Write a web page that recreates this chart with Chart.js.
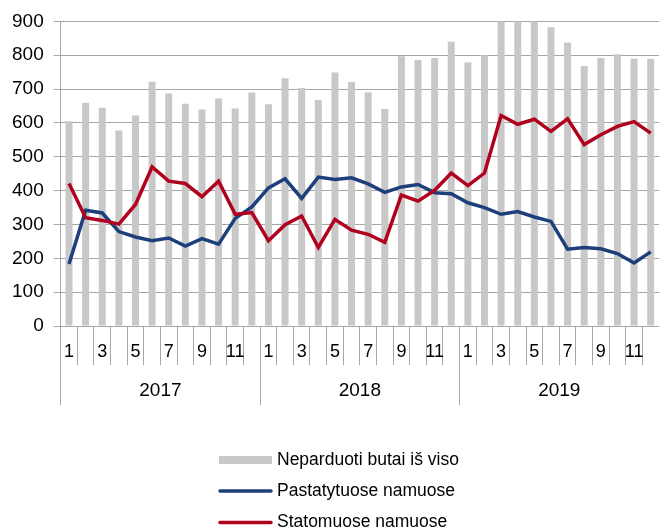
<!DOCTYPE html>
<html>
<head>
<meta charset="utf-8">
<script src="https://cdn.jsdelivr.net/npm/chart.js@4"></script>
<style>
  html, body { margin: 0; padding: 0; background: #fff; }
  #wrap { width: 659px; height: 530px; }
</style>
</head>
<body>
<div id="wrap"><canvas id="chart"></canvas></div>
<script>
const months = ['1','2','3','4','5','6','7','8','9','10','11','12',
                '1','2','3','4','5','6','7','8','9','10','11','12',
                '1','2','3','4','5','6','7','8','9','10','11','12'];
const years = ['2017', '2018', '2019'];

// Neparduoti butai iš viso (bars)
const unsoldTotal = [605, 660, 645, 578, 622, 722, 687, 657, 640, 672, 643, 690,
                     655, 732, 703, 668, 749, 721, 691, 641, 797, 786, 792, 840,
                     779, 800, 925, 935, 915, 883, 838, 768, 792, 803, 790, 789];
// Pastatytuose namuose
const builtHomes = [183, 342, 334, 279, 263, 252, 260, 236, 258, 242, 318, 352,
                    408, 435, 377, 440, 433, 438, 420, 395, 411, 418, 394, 391,
                    364, 350, 330, 338, 322, 309, 227, 232, 228, 214, 186, 219];
// Statomuose namuose
const underConstruction = [421, 320, 312, 301, 359, 470, 428, 421, 382, 428, 330, 335,
                           252, 299, 325, 232, 315, 283, 271, 247, 387, 369, 401, 452,
                           415, 452, 622, 596, 611, 575, 612, 536, 565, 590, 604, 570];

const FONT = "'Liberation Sans', Arial, sans-serif";
const gridColor = '#a6a6a6';

// legend stacked in one column under the axes
const stackedLegend = {
    id: 'stackedLegend',
    afterDraw(chart) {
        const ctx = chart.ctx;
        const rows = [460, 491, 522.5];
        ctx.save();
        ctx.font = '17.5px ' + FONT;
        ctx.textBaseline = 'middle';
        chart.data.datasets.forEach((ds, i) => {
            const y = rows[i];
            if (ds.type === 'bar') {
                ctx.fillStyle = ds.backgroundColor;
                ctx.fillRect(219, y - 4, 53, 8);
            } else {
                ctx.strokeStyle = ds.borderColor;
                ctx.lineWidth = 3.5;
                ctx.lineCap = 'round';
                ctx.beginPath();
                ctx.moveTo(220, y);
                ctx.lineTo(271, y);
                ctx.stroke();
            }
            ctx.fillStyle = '#000';
            ctx.fillText(ds.label, 277, y);
        });
        ctx.restore();
    }
};

const ctx = document.getElementById('chart').getContext('2d');
new Chart(ctx, {
    data: {
        labels: months,
        datasets: [{
            type: 'bar',
            label: 'Neparduoti butai iš viso',
            data: unsoldTotal,
            backgroundColor: '#c8c8c8',
            barPercentage: 0.42,
            categoryPercentage: 1,
            clip: 0,
            order: 3
        }, {
            type: 'line',
            label: 'Pastatytuose namuose',
            data: builtHomes,
            borderColor: '#1d3f7c',
            borderWidth: 3.5,
            pointRadius: 0,
            tension: 0,
            order: 2
        }, {
            type: 'line',
            label: 'Statomuose namuose',
            data: underConstruction,
            borderColor: '#b0011f',
            borderWidth: 3.5,
            pointRadius: 0,
            tension: 0,
            order: 1
        }]
    },
    options: {
        responsive: true,
        maintainAspectRatio: false,
        animation: false,
        layout: { padding: { top: 4, right: 0, left: 2, bottom: 125 } },
        plugins: {
            legend: { display: false },
            tooltip: { enabled: false }
        },
        scales: {
            y: {
                min: 0,
                max: 900,
                ticks: {
                    stepSize: 100,
                    color: '#000',
                    padding: 10,
                    font: { family: FONT, size: 19 }
                },
                grid: { color: gridColor, tickLength: 7 },
                border: { color: gridColor }
            },
            x: {
                grid: { offset: true, drawOnChartArea: false, tickLength: 39, color: gridColor },
                border: { color: gridColor },
                afterFit: function(scale) { scale.height = 39; },
                ticks: {
                    autoSkip: false,
                    maxRotation: 0,
                    mirror: true,
                    padding: -37,
                    color: '#000',
                    font: { family: FONT, size: 18 },
                    callback: function(value, index) {
                        return index % 2 === 0 ? months[index] : '';
                    }
                }
            },
            x2: {
                type: 'category',
                position: 'bottom',
                labels: years,
                offset: true,
                grid: { offset: true, drawOnChartArea: false, tickLength: 40, color: gridColor },
                border: { display: false },
                afterFit: function(scale) { scale.height = 40; },
                ticks: {
                    maxRotation: 0,
                    mirror: true,
                    padding: -37,
                    color: '#000',
                    font: { family: FONT, size: 19 }
                }
            }
        }
    },
    plugins: [stackedLegend]
});
</script>
</body>
</html>
